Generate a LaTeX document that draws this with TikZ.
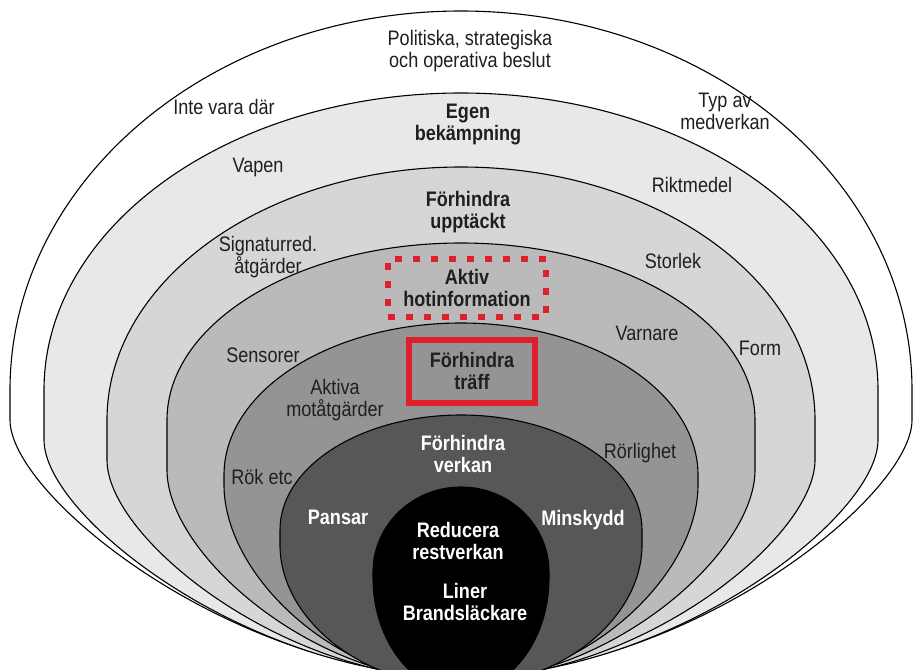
\documentclass[tikz,border=0pt]{standalone}
\usepackage{fontspec}
\setmainfont{Liberation Sans}[FakeStretch=0.86]
\definecolor{redbox}{RGB}{222,32,44}
% cx, yt, ym1, ym2, a, yb, kb1, kb2, fill
\newcommand\drawegg[9]{%
 \pgfmathsetmacro\eL{#1-#5}%
 \pgfmathsetmacro\eR{#1+#5}%
 \pgfmathsetmacro\eTy{#3-0.5523*(#3-#2)}%
 \pgfmathsetmacro\eTxL{#1-0.5523*#5}%
 \pgfmathsetmacro\eTxR{#1+0.5523*#5}%
 \pgfmathsetmacro\eBy{#4+#7*(#6-#4)}%
 \pgfmathsetmacro\eBxL{#1-#8*#5}%
 \pgfmathsetmacro\eBxR{#1+#8*#5}%
 \draw[ring,fill=#9] (#1,#6) .. controls (\eBxL,#6) and (\eL,\eBy) .. (\eL,#4)
   -- (\eL,#3) .. controls (\eL,\eTy) and (\eTxL,#2) .. (#1,#2)
   .. controls (\eTxR,#2) and (\eR,\eTy) .. (\eR,#3) -- (\eR,#4)
   .. controls (\eR,\eBy) and (\eBxR,#6) .. cycle;
}
\begin{document}
\begin{tikzpicture}[x=1pt,y=-1pt,
  ring/.style={draw=black,line width=1.1pt},
  lab/.style={inner sep=0pt,align=center,text=black!88,font=\fontsize{21}{22}\selectfont},
  hd/.style={lab,font=\fontsize{21}{22}\selectfont\bfseries},
  hdw/.style={hd,text=white},
  dotbox/.style={draw=redbox,line width=5.5pt,dash pattern=on 7pt off 11pt,minimum width=158pt,minimum height=58pt},
  solbox/.style={draw=redbox,line width=6pt,minimum width=126pt,minimum height=63pt}]
\useasboundingbox (0,0) rectangle (915,669);
\fill[white] (0,0) rectangle (915,669);
\begin{scope}
\clip (0,0) rectangle (915,669);
\drawegg{461}{11}{390}{420}{451}{676}{0.30}{0.50}{white}
\drawegg{461}{93}{390}{440}{417}{677}{0.33}{0.50}{black!9}
\drawegg{461}{167}{420}{460}{354}{679}{0.36}{0.50}{black!16}
\drawegg{461}{243}{420}{470}{294}{681}{0.40}{0.50}{black!27}
\drawegg{461}{323}{475}{485}{237}{683}{0.46}{0.52}{black!42}
\drawegg{461}{415}{530}{545}{181}{686}{0.52}{0.55}{black!66}
\drawegg{461}{487}{572}{578}{88}{692}{0.55}{0.55}{black}
\end{scope}
\node[lab] (pol) at (470,51) {Politiska, strategiska\\och operativa beslut};
\node[lab] (inte) at (224,107) {Inte vara där};
\node[hd] (egen) at (468,124) {Egen\\bekämpning};
\node[lab] (typ) at (725,111) {Typ av\\medverkan};
\node[lab] (vapen) at (258,167) {Vapen};
\node[lab] (rikt) at (692,185) {Riktmedel};
\node[hd] (uppt) at (468,212) {Förhindra\\upptäckt};
\node[lab] (sign) at (268,257) {Signaturred.\\åtgärder};
\node[lab] (storlek) at (673,261) {Storlek};
\node[hd,dotbox] (aktiv) at (467,288) {Aktiv\\hotinformation};
\node[lab] (sens) at (263,355) {Sensorer};
\node[lab] (varn) at (647,333) {Varnare};
\node[lab] (form) at (760,348) {Form};
\node[hd,solbox] (traff) at (472,371) {Förhindra\\träff};
\node[lab] (aktiva) at (335,400) {Aktiva\\motåtgärder};
\node[lab] (rok) at (262,477) {Rök etc};
\node[hdw] (verkan) at (463,454) {Förhindra\\verkan};
\node[lab] (rorl) at (640,453) {Rörlighet};
\node[hdw] (pansar) at (338,517) {Pansar};
\node[hdw] (mins) at (583,520) {Minskydd};
\node[hdw] (red) at (458,541) {Reducera\\restverkan};
\node[hdw] (liner) at (465,602) {Liner\\Brandsläckare};
\end{tikzpicture}
\end{document}
